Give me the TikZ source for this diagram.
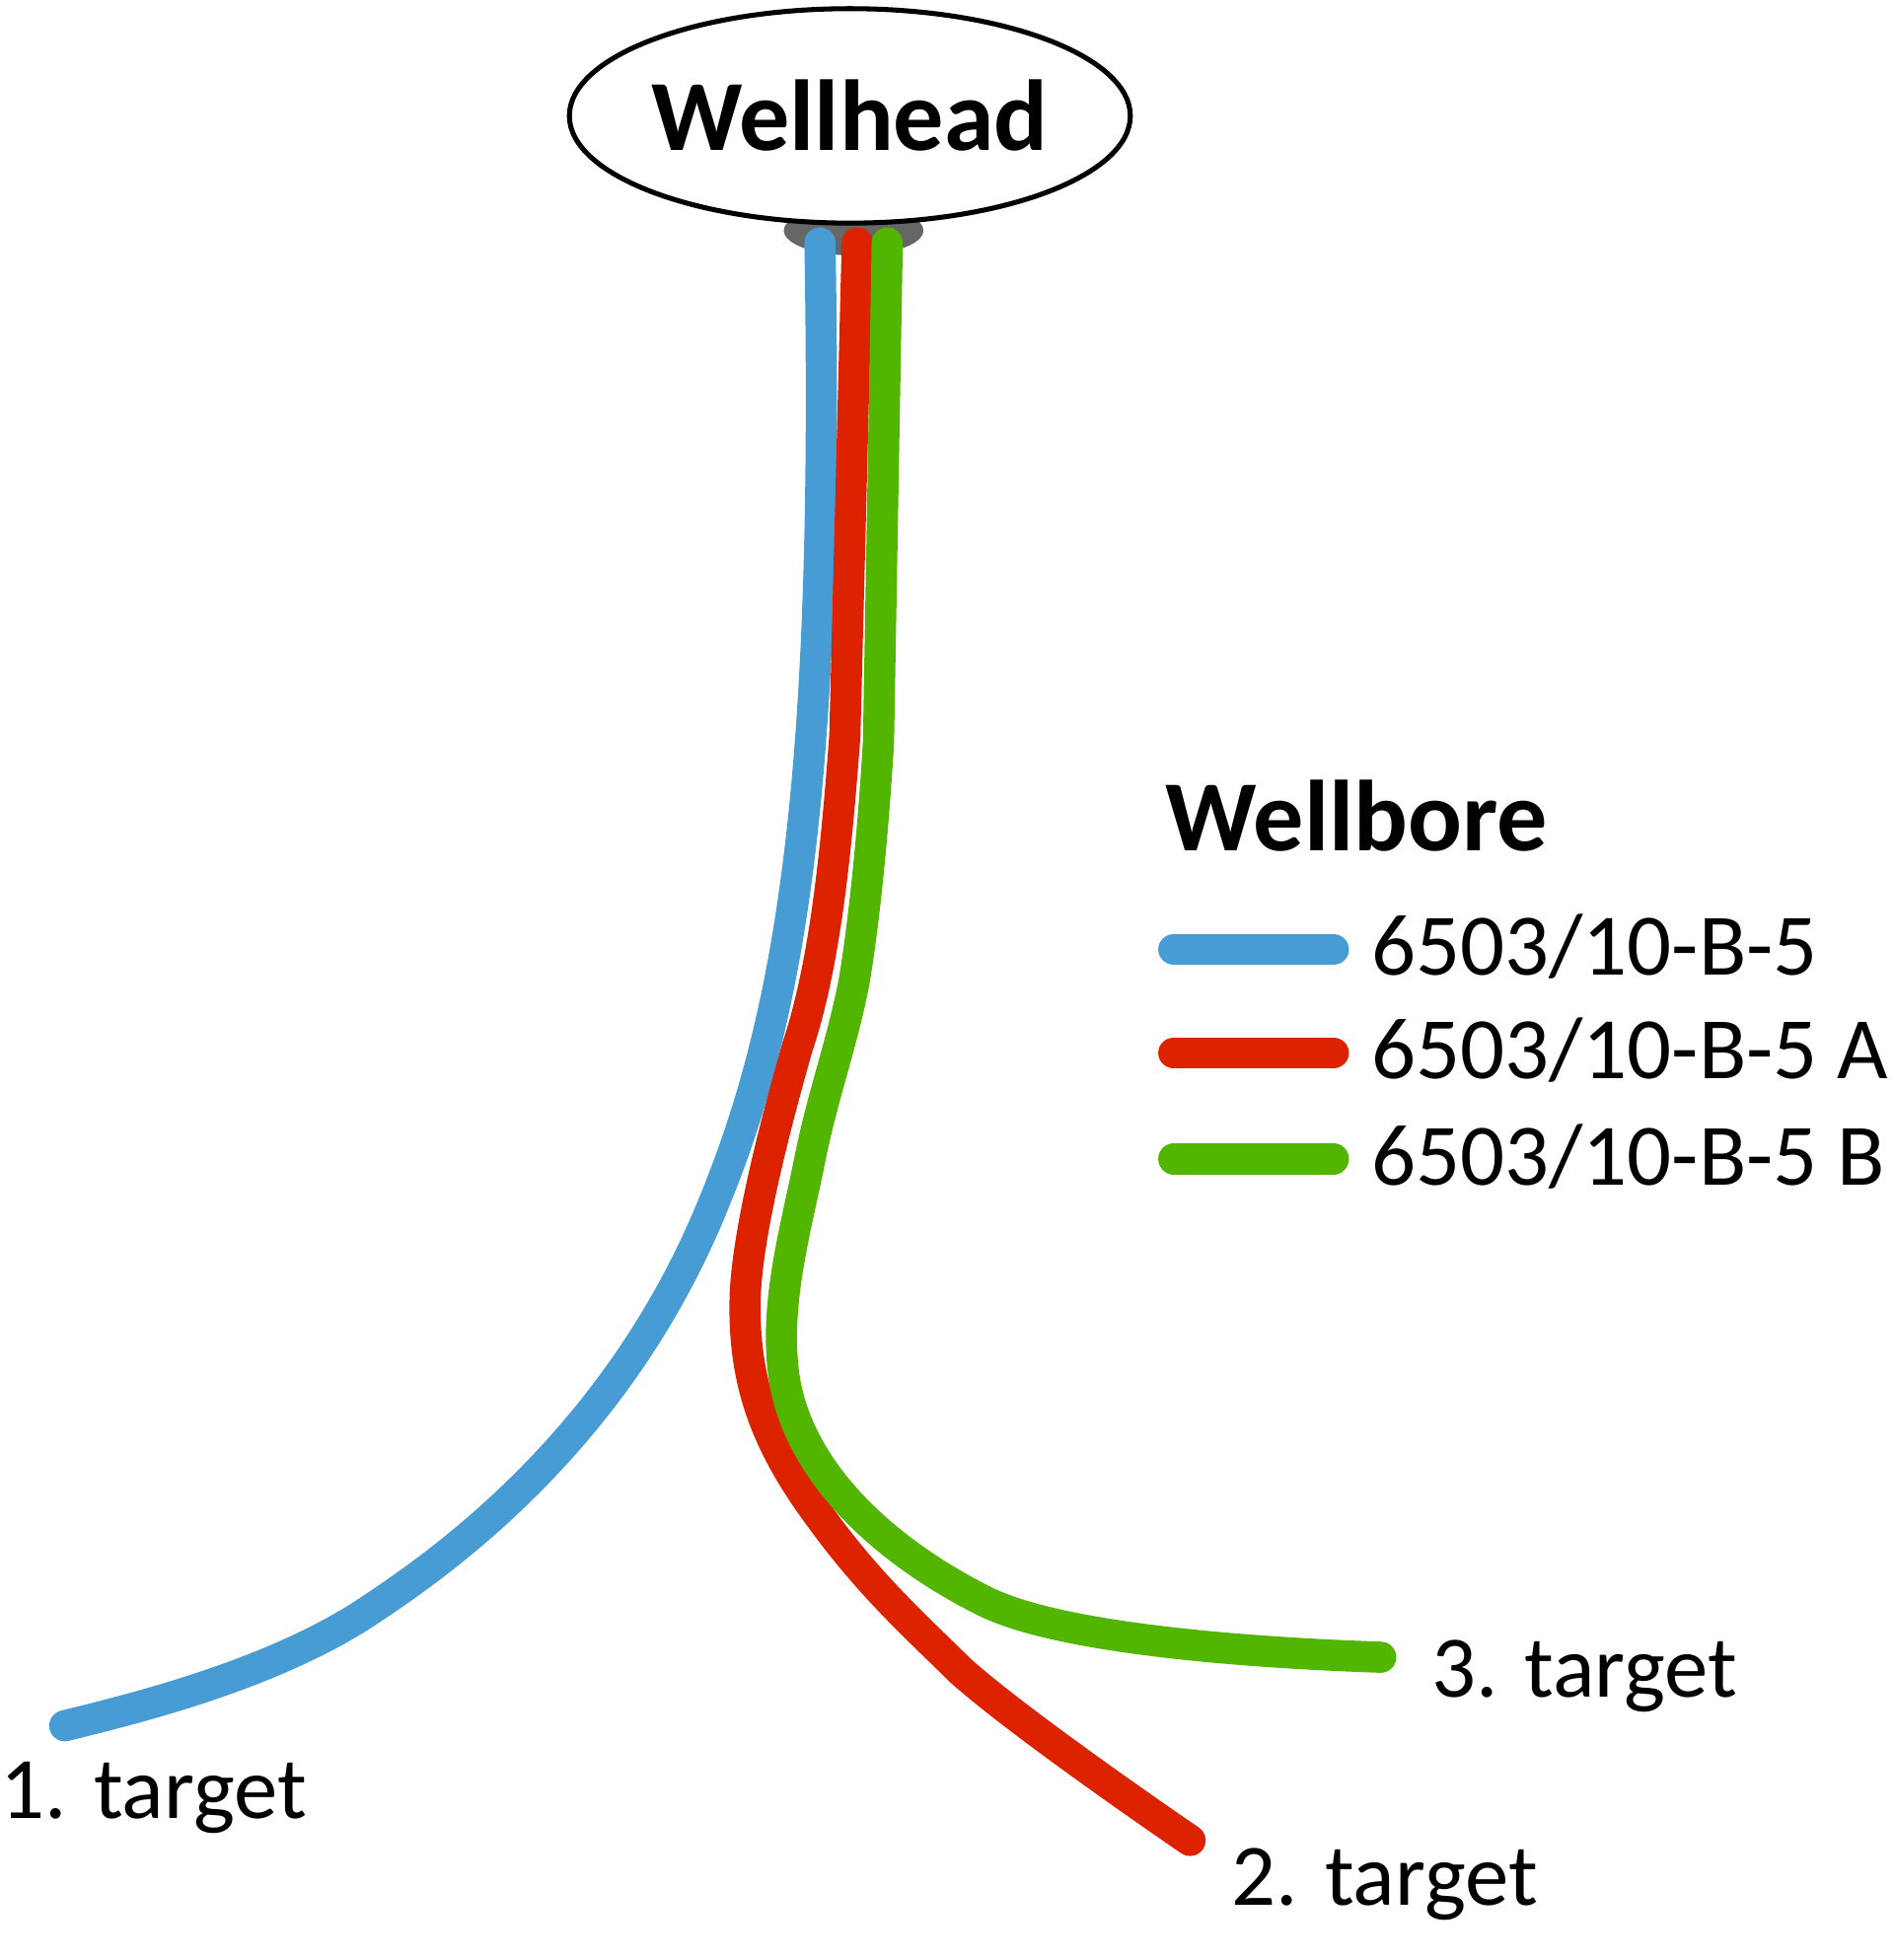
\documentclass[tikz,border=0pt]{standalone}
\usepackage{fontspec}
\setmainfont{Carlito}
\usetikzlibrary{shapes.geometric}

\definecolor{boreblue}{HTML}{479CD3}
\definecolor{borered}{HTML}{DD2200}
\definecolor{boregreen}{HTML}{52B500}

\tikzset{
    bore/.style={line width=0.25cm, line cap=round},
    tlabel/.style={font=\fontsize{20}{24}\selectfont, inner sep=0pt},
}

\begin{document}
\begin{tikzpicture}[x=0.01cm, y=-0.01cm]
    \useasboundingbox (0,0) rectangle (1520,1573);

    \fill[black!60] (685,185) ellipse (56 and 20);
    \coordinate (b0) at (658,195);
    \coordinate (r0) at (688,195);
    \coordinate (g0) at (712,195);

    % well paths
    \draw[bore, boreblue] (b0) .. controls (665,600) and (640,800) .. (575,960)
        .. controls (500,1150) and (360,1250) .. (300,1290)
        .. controls (220,1345) and (100,1373) .. (52,1385) coordinate (b1);
    \draw[bore, borered] (r0) -- (678,590)
        .. controls (670,700) and (660,780) .. (640,840)
        .. controls (620,910) and (600,990) .. (598,1040)
        .. controls (596,1110) and (615,1160) .. (660,1220)
        .. controls (700,1275) and (740,1310) .. (770,1340)
        .. controls (820,1385) and (955,1477) .. (955,1477) coordinate (r1);
    \draw[bore, boregreen] (g0) -- (705,595)
        .. controls (700,680) and (692,750) .. (685,790)
        .. controls (675,840) and (660,880) .. (650,930)
        .. controls (638,990) and (620,1050) .. (630,1110)
        .. controls (645,1190) and (720,1250) .. (790,1285)
        .. controls (860,1320) and (1050,1328) .. (1108,1330) coordinate (g1);

    \node[ellipse, draw, line width=0.04cm, fill=white, minimum width=4.2cm, minimum height=1.72cm,
        inner sep=0pt, font=\fontsize{23}{28}\selectfont\bfseries] (head) at (682,93) {Wellhead};

    \node[tlabel, anchor=west] (t1) at (0,1443) {1. target};
    \node[tlabel, anchor=west] (t2) at (988,1512) {2. target};
    \node[tlabel, anchor=west] (t3) at (1148,1345) {3. target};

    % legend
    \node[anchor=west, inner sep=0pt, font=\fontsize{23}{28}\selectfont\bfseries] (key) at (935,655) {Wellbore};
    \draw[bore, boreblue] (942,762) -- (1070,762);
    \draw[bore, borered] (942,845) -- (1070,845);
    \draw[bore, boregreen] (942,930) -- (1070,930);
    \node[tlabel, anchor=west] (k1) at (1100,760) {6503/10-B-5};
    \node[tlabel, anchor=west] (k2) at (1100,843) {6503/10-B-5 A};
    \node[tlabel, anchor=west] (k3) at (1100,928) {6503/10-B-5 B};
\end{tikzpicture}
\end{document}
